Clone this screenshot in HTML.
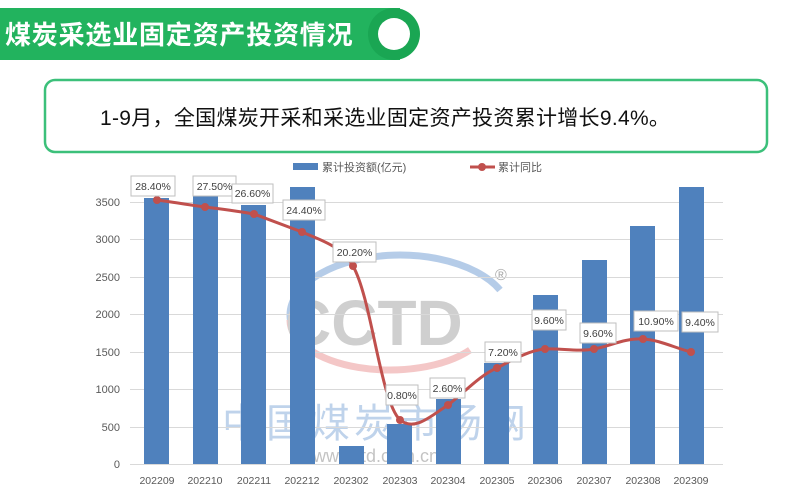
<!DOCTYPE html>
<html><head><meta charset="utf-8"><style>
html,body{margin:0;padding:0;background:#fff;}
body{width:788px;height:500px;overflow:hidden;position:relative;font-family:"Liberation Sans","Noto Sans CJK SC",sans-serif;}
</style></head><body>
<svg width="788" height="500" xmlns="http://www.w3.org/2000/svg" style="position:absolute;left:0;top:0">
<!-- header -->
<rect x="0" y="8" width="400" height="52" fill="#22b35e"/>
<circle cx="394" cy="34" r="26" fill="#1aa653"/>
<circle cx="394" cy="34" r="16" fill="#fff"/>
<text x="5" y="44" font-family="'Liberation Sans','Noto Sans CJK SC',sans-serif" font-size="26" font-weight="bold" fill="#fff" letter-spacing="0.8">煤炭采选业固定资产投资情况</text>
<rect x="45" y="80" width="722" height="72" rx="10" fill="#fff" stroke="#3cc07a" stroke-width="2.5"/>
<text x="100" y="125" font-family="'Liberation Sans','Noto Sans CJK SC',sans-serif" font-size="21" fill="#111" letter-spacing="0.3">1-9月，全国煤炭开采和采选业固定资产投资累计增长9.4%。</text>
<!-- watermark -->
<g opacity="0.35">
<path d="M300 340 A110 60 0 0 1 500 290" fill="none" stroke="#2f6fc0" stroke-width="7"/>
<path d="M290 320 A100 50 0 0 0 470 350" fill="none" stroke="#e06060" stroke-width="7"/>
<text x="285" y="345" font-size="64" fill="#777" font-weight="bold" font-family="'Liberation Sans',sans-serif">CCTD</text>
<text x="222" y="437" font-size="40" fill="#4a82c8" font-family="'Noto Sans CJK SC',sans-serif" letter-spacing="4">中国煤炭市场网</text>
<text x="300" y="462" font-size="18" fill="#555" font-family="'Liberation Sans',sans-serif">www.cctd.com.cn</text>
</g>
<text x="495" y="280" font-size="16" fill="#aaa">®</text>
<!-- grid -->
<g stroke="#d9d9d9" stroke-width="1">
<line x1="130" y1="202.5" x2="723" y2="202.5"/><line x1="130" y1="239.5" x2="723" y2="239.5"/>
<line x1="130" y1="277.5" x2="723" y2="277.5"/><line x1="130" y1="314.5" x2="723" y2="314.5"/>
<line x1="130" y1="352.5" x2="723" y2="352.5"/><line x1="130" y1="389.5" x2="723" y2="389.5"/>
<line x1="130" y1="427.5" x2="723" y2="427.5"/><line x1="130" y1="464.5" x2="723" y2="464.5"/>
</g>
<g font-size="11" fill="#595959" text-anchor="end">
<text x="120" y="206">3500</text><text x="120" y="243">3000</text><text x="120" y="281">2500</text>
<text x="120" y="318">2000</text><text x="120" y="356">1500</text><text x="120" y="393">1000</text>
<text x="120" y="431">500</text><text x="120" y="468">0</text>
</g>
<!-- bars -->
<g fill="#4f81bd">
<rect x="144" y="198" width="25" height="266"/>
<rect x="193" y="195" width="25" height="269"/>
<rect x="241" y="205" width="25" height="259"/>
<rect x="290" y="187" width="25" height="277"/>
<rect x="339" y="446" width="25" height="18"/>
<rect x="387" y="424" width="25" height="40"/>
<rect x="436" y="399" width="25" height="65"/>
<rect x="484" y="363" width="25" height="101"/>
<rect x="533" y="295" width="25" height="169"/>
<rect x="582" y="260" width="25" height="204"/>
<rect x="630" y="226" width="25" height="238"/>
<rect x="679" y="187" width="25" height="277"/>
</g>
<g font-size="10.5" fill="#595959" text-anchor="middle">
<text x="157" y="484">202209</text><text x="205" y="484">202210</text><text x="254" y="484">202211</text>
<text x="302" y="484">202212</text><text x="351" y="484">202302</text><text x="400" y="484">202303</text>
<text x="448" y="484">202304</text><text x="497" y="484">202305</text><text x="545" y="484">202306</text>
<text x="594" y="484">202307</text><text x="643" y="484">202308</text><text x="691" y="484">202309</text>
</g>
<!-- line -->
<path d="M157 200 C173 202,189 205,205 207 C221 209,238 211,254 214 C270 220,286 226,302 232 C320 240,340 245,353 266 C372 300,380 400,400 420 C415 432,432 415,448 405 C465 392,480 375,497 368 C512 360,530 350,545 349 C560 348,578 352,594 349 C610 346,625 338,643 339 C660 340,675 348,691 352" fill="none" stroke="#c0504d" stroke-width="3"/>
<g fill="#c0504d">
<circle cx="157" cy="200" r="4"/><circle cx="205" cy="207" r="4"/><circle cx="254" cy="214" r="4"/>
<circle cx="302" cy="232" r="4"/><circle cx="353" cy="266" r="4"/><circle cx="400" cy="420" r="4"/>
<circle cx="448" cy="405" r="4"/><circle cx="497" cy="368" r="4"/><circle cx="545" cy="349" r="4"/>
<circle cx="594" cy="349" r="4"/><circle cx="643" cy="339" r="4"/><circle cx="691" cy="352" r="4"/>
</g>
<!-- labels -->
<g font-size="10.5" fill="#404040" text-anchor="middle">
<g fill="#fff" stroke="#bfbfbf">
<rect x="131" y="176" width="44" height="20"/><rect x="193" y="176" width="43" height="20"/>
<rect x="232" y="184" width="41" height="19"/><rect x="283" y="200" width="42" height="20"/>
<rect x="333" y="242" width="43" height="20"/><rect x="386" y="385" width="32" height="20"/>
<rect x="430" y="378" width="35" height="20"/><rect x="485" y="342" width="36" height="20"/>
<rect x="532" y="310" width="34" height="20"/><rect x="580" y="323" width="36" height="20"/>
<rect x="634" y="311" width="44" height="20"/><rect x="682" y="312" width="36" height="20"/>
</g>
<text x="153" y="190">28.40%</text><text x="214.5" y="190">27.50%</text><text x="252.5" y="197">26.60%</text>
<text x="304" y="214">24.40%</text><text x="354.5" y="256">20.20%</text><text x="402" y="399">0.80%</text>
<text x="447.5" y="392">2.60%</text><text x="503" y="356">7.20%</text><text x="549" y="324">9.60%</text>
<text x="598" y="337">9.60%</text><text x="656" y="325">10.90%</text><text x="700" y="326">9.40%</text>
</g>
<!-- legend -->
<rect x="293" y="163" width="25" height="7" fill="#4f81bd"/>
<text x="322" y="171" font-size="11" fill="#595959">累计投资额(亿元)</text>
<line x1="470" y1="167" x2="495" y2="167" stroke="#c0504d" stroke-width="3"/>
<circle cx="482" cy="167" r="4" fill="#c0504d"/>
<text x="498" y="171" font-size="11" fill="#595959">累计同比</text>
</svg>
</body></html>
